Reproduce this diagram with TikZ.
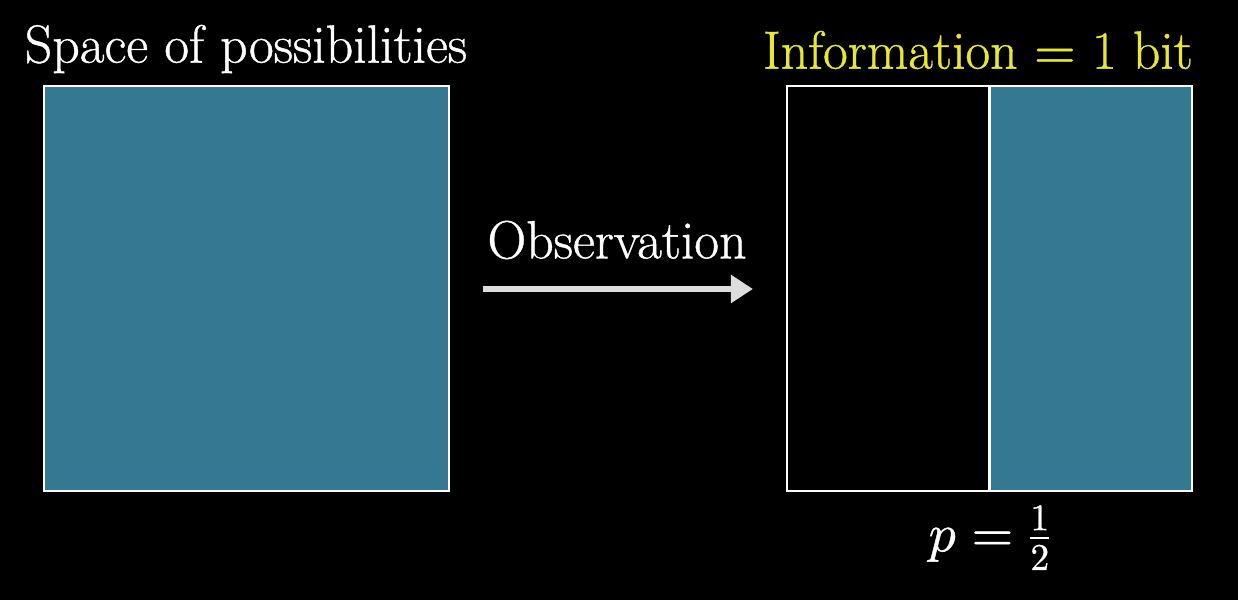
\documentclass[tikz,border=0pt]{standalone}
\usepackage{amsmath}
\usepackage{unicode-math}
\setmainfont{Latin Modern Roman}[FakeBold=0.8]
\setmathfont{Latin Modern Math}[FakeBold=0.8]
\usepackage{tikz}
\usetikzlibrary{positioning,arrows.meta}
\definecolor{spaceblue}{RGB}{52,121,145}
\definecolor{infoyellow}{RGB}{232,232,48}
\definecolor{arrowgray}{RGB}{221,221,221}
\tikzset{
  box/.style={draw=white,line width=1.2pt,inner sep=0pt,minimum height=8.1cm},
  caption/.style={text=white,font=\fontsize{30.6}{34}\selectfont,inner sep=0pt}
}
\begin{document}
\begin{tikzpicture}
                      \fill[black] (0,0) rectangle (24.76,12);
                      \node[box,fill=spaceblue,minimum width=8.1cm](space)at(4.93,6.23){};
                      \node[box,fill=black,minimum width=4.05cm](half)at(17.765,6.23){};
                      \node[box,fill=spaceblue,minimum width=4.05cm,right=-1.2pt of half](rest){};
                      \node[caption](spacelabel)at(4.92,11.02){Space of possibilities};
                      \node[caption,text=infoyellow](infolabel)at(19.56,11.0){Information $=$ 1 bit};
                      \node[caption](obslabel)at(12.34,7.2){Observation};
                      \node[caption](plabel)at(19.8,1.25){$p=\frac{1}{2}$};
                      \draw[-{Triangle[length=0.44cm,width=0.54cm]},arrowgray,line width=3.4pt,shorten <=0.66cm,shorten >=0.66cm] (space.east|-0,6.22) -- (half.west|-0,6.22);
                  \end{tikzpicture}
\end{document}
